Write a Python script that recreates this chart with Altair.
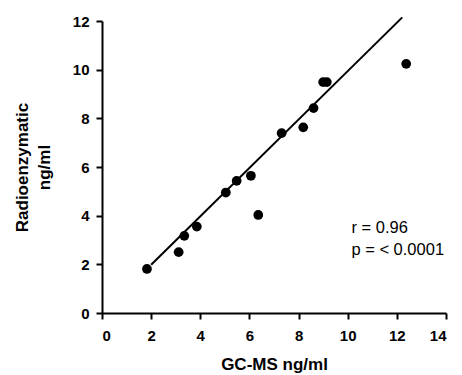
import altair as alt
import pandas as pd

gcms = [1.83, 3.12, 3.35, 3.86, 5.04, 5.48, 6.06, 6.36, 7.31, 8.19, 8.61, 9.0, 9.15, 12.38]
radio = [1.81, 2.50, 3.17, 3.55, 4.95, 5.43, 5.64, 4.03, 7.39, 7.63, 8.42, 9.49, 9.49, 10.24]

fit_x = [2.0, 12.22]
fit_y = [1.98, 12.15]

note_text = ["r = 0.96", "p = < 0.0001"]
note_x = [10.15, 10.15]
note_y = [3.29, 2.39]

x_ticks = [0, 2, 4, 6, 8, 10, 12, 14]
y_ticks = [0, 2, 4, 6, 8, 10, 12]

pts = pd.DataFrame({"x": gcms, "y": radio})
fit = pd.DataFrame({"x": fit_x, "y": fit_y})
notes = pd.DataFrame({"x": note_x, "y": note_y, "t": note_text})

xs = alt.Scale(domain=[0, 14], nice=False)
ys = alt.Scale(domain=[0, 12], nice=False)

xax = alt.Axis(values=x_ticks, title="GC-MS ng/ml", titlePadding=13, labelPadding=9)
yax = alt.Axis(values=y_ticks, title=["Radioenzymatic", "ng/ml"], titlePadding=19, labelPadding=7)

points = alt.Chart(pts).mark_circle(size=95, color="black", opacity=1).encode(
    x=alt.X("x:Q", scale=xs, axis=xax),
    y=alt.Y("y:Q", scale=ys, axis=yax),
)

line = alt.Chart(fit).mark_line(color="black", strokeWidth=2, clip=False).encode(
    x=alt.X("x:Q", scale=xs),
    y=alt.Y("y:Q", scale=ys),
)

text = alt.Chart(notes).mark_text(
    align="left", baseline="alphabetic", font="Liberation Sans", fontSize=16.5, color="black"
).encode(
    x=alt.X("x:Q", scale=xs),
    y=alt.Y("y:Q", scale=ys),
    text="t:N",
)

chart = (
    alt.layer(line, points, text)
    .properties(
        width=344,
        height=292,
        autosize=alt.AutoSizeParams(type="none"),
        padding={"left": 94, "top": 13, "right": 8, "bottom": 60},
    )
    .configure_view(stroke=None)
    .configure_axis(
        grid=False,
        domainColor="black",
        domainWidth=2,
        tickColor="black",
        tickWidth=2,
        tickSize=6,
        labelFont="Liberation Sans",
        labelFontWeight="bold",
        labelFontSize=15,
        labelColor="black",
        titleFont="Liberation Sans",
        titleFontWeight="bold",
        titleFontSize=17,
        titleColor="black",
        titleLineHeight=22,
    )
)

chart.save("out.html", embed_options={"renderer": "svg", "actions": False})
